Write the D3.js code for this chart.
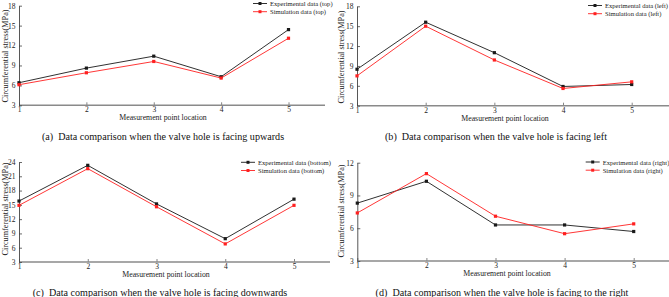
<!DOCTYPE html>
<html>
<head>
<meta charset="utf-8">
<script src="https://cdn.jsdelivr.net/npm/d3@7/dist/d3.min.js"></script>
<style>
  html, body { margin: 0; padding: 0; background: #fff; }
  svg { display: block; font-family: "Liberation Serif", "Times New Roman", serif; }
</style>
</head>
<body>
<svg id="chart" width="669" height="297"></svg>
<script>
// ---------- data ----------
const points = [1, 2, 3, 4, 5];

const expTop = [6.4, 8.6, 10.4, 7.3, 14.4];
const simTop = [6.1, 7.9, 9.6, 7.1, 13.1];

const expLeft = [8.5, 15.6, 11.0, 5.9, 6.2];
const simLeft = [7.5, 15.0, 9.9, 5.6, 6.6];

const expBottom = [15.8, 23.3, 15.2, 7.9, 16.2];
const simBottom = [14.9, 22.6, 14.6, 6.8, 14.9];

const expRight = [8.3, 10.3, 6.3, 6.3, 5.7];
const simRight = [7.4, 11.0, 7.1, 5.5, 6.4];

const yTicksTop = [3, 6, 9, 12, 15, 18];
const yTicksLeft = [3, 6, 9, 12, 15, 18];
const yTicksBottom = [3, 6, 9, 12, 15, 18, 21, 24];
const yTicksRight = [3, 6, 9, 12];

const legendTop = ["Experimental data (top)", "Simulation data (top)"];
const legendLeft = ["Experimental data (left)", "Simulation data (left)"];
const legendBottom = ["Experimental data (bottom)", "Simulation data (bottom)"];
const legendRight = ["Experimental data (right)", "Simulation data (right)"];

const captions = [
  "(a)  Data comparison when the valve hole is facing upwards",
  "(b)  Data comparison when the valve hole is facing left",
  "(c)  Data comparison when the valve hole is facing downwards",
  "(d)  Data comparison when the valve hole is facing to the right"
];
const xTitle = "Measurement point location";
const yTitle = "Circumferential stress(MPa)";

// ---------- layout ----------
const panels = [
  { ox: 0,   oy: 0,   w: 335, h: 148, x1: 19, x5: 288.5, xEnd: 325, yTop: 5.7,  yBot: 105.3,
    yDom: [3, 18], yTicks: yTicksTop, exp: expTop, sim: simTop, legend: legendTop,
    legX: 253, legY: 3.5, yTitleX: 5, yTitleY: 56, capY: 136, capX: 163, xTitleX: 163 },
  { ox: 335, oy: 0,   w: 334, h: 148, x1: 22, x5: 296.7, xEnd: 334, yTop: 6.3,  yBot: 105.7,
    yDom: [3, 18], yTicks: yTicksLeft, exp: expLeft, sim: simLeft, legend: legendLeft,
    legX: 253, legY: 5.5, yTitleX: 6, yTitleY: 57, capY: 136, capX: 161, xTitleX: 170 },
  { ox: 0,   oy: 148, w: 335, h: 149, x1: 19, x5: 294, xEnd: 330, yTop: 14,   yBot: 114,
    yDom: [3, 24], yTicks: yTicksBottom, exp: expBottom, sim: simBottom, legend: legendBottom,
    legX: 241, legY: 14.3, yTitleX: 5, yTitleY: 61, capY: 144, capX: 160, xTitleX: 166 },
  { ox: 335, oy: 148, w: 334, h: 149, x1: 22.3, x5: 298.7, xEnd: 334, yTop: 14.7, yBot: 113,
    yDom: [3, 12], yTicks: yTicksRight, exp: expRight, sim: simRight, legend: legendRight,
    legX: 250.7, legY: 14, yTitleX: 6, yTitleY: 63, capY: 144, capX: 167, xTitleX: 172 }
];

const expColor = "#1a1a1a";
const simColor = "#ff2020";

const svg = d3.select("#chart");
const defs = svg.append("defs");

panels.forEach((p, i) => {
  defs.append("clipPath").attr("id", "clip" + i)
    .append("rect").attr("x", 0).attr("y", 0).attr("width", p.w).attr("height", p.h);

  const g = svg.append("g")
    .attr("transform", `translate(${p.ox},${p.oy})`)
    .attr("clip-path", `url(#clip${i})`);

  const x = d3.scaleLinear().domain([1, 5]).range([p.x1, p.x5]);
  const y = d3.scaleLinear().domain(p.yDom).range([p.yBot, p.yTop]);

  // x axis
  const xAxis = g.append("g").attr("transform", `translate(0,${p.yBot})`)
    .call(d3.axisBottom(x).tickValues(points).tickFormat(d3.format("d")).tickSize(0).tickPadding(1.5));
  xAxis.select(".domain").remove();
  xAxis.append("line").attr("x1", p.x1).attr("x2", p.xEnd).attr("y1", 0).attr("y2", 0)
    .attr("stroke", "#8a8a8a").attr("stroke-width", 1.6);
  xAxis.selectAll(".tick").append("line").attr("y1", 0).attr("y2", -3)
    .attr("stroke", "#666").attr("stroke-width", 0.8);
  xAxis.selectAll(".tick text").attr("font-size", 7.5).attr("fill", "#222")
    .attr("font-family", "Liberation Serif, serif");

  // y axis
  const yAxis = g.append("g").attr("transform", `translate(${p.x1},0)`)
    .call(d3.axisLeft(y).tickValues(p.yTicks).tickFormat(d3.format("d")).tickSize(0).tickPadding(3.5));
  yAxis.select(".domain").attr("stroke", "#444").attr("stroke-width", 0.9);
  yAxis.selectAll(".tick").append("line").attr("x1", 0).attr("x2", 3)
    .attr("stroke", "#444").attr("stroke-width", 0.8);
  yAxis.selectAll(".tick text").attr("font-size", 7.5).attr("fill", "#222")
    .attr("font-family", "Liberation Serif, serif");

  // titles
  g.append("text").attr("x", p.xTitleX).attr("y", p.yBot + 12.5)
    .attr("text-anchor", "middle").attr("dominant-baseline", "central")
    .attr("font-size", 7.8).attr("fill", "#222").text(xTitle);
  g.append("text")
    .attr("transform", `translate(${p.yTitleX},${p.yTitleY}) rotate(-90)`)
    .attr("text-anchor", "middle").attr("dominant-baseline", "central")
    .attr("font-size", 8.2).attr("fill", "#222").text(yTitle);

  // lines
  const line = d3.line().x((d, j) => x(points[j])).y(d => y(d));
  [[p.exp, expColor], [p.sim, simColor]].forEach(([vals, col]) => {
    g.append("path").datum(vals).attr("d", line).attr("fill", "none")
      .attr("stroke", col).attr("stroke-width", 0.9);
    g.selectAll(null).data(vals).enter().append("rect")
      .attr("x", (d, j) => x(points[j]) - 1.6).attr("y", d => y(d) - 1.6)
      .attr("width", 3.2).attr("height", 3.2).attr("fill", col);
  });

  // legend
  [[p.legend[0], expColor], [p.legend[1], simColor]].forEach(([lab, col], k) => {
    const ly = p.legY + k * 8.2;
    g.append("line").attr("x1", p.legX).attr("x2", p.legX + 14).attr("y1", ly).attr("y2", ly)
      .attr("stroke", col).attr("stroke-width", 0.9);
    g.append("rect").attr("x", p.legX + 7 - 1.5).attr("y", ly - 1.5)
      .attr("width", 3).attr("height", 3).attr("fill", col);
    g.append("text").attr("x", p.legX + 17).attr("y", ly).attr("dominant-baseline", "central")
      .attr("font-size", 6.6).attr("fill", "#222").text(lab);
  });

  // caption
  g.append("text").attr("x", p.capX).attr("y", p.capY).attr("text-anchor", "middle")
    .attr("dominant-baseline", "central").attr("font-size", 10.1).attr("fill", "#111")
    .attr("xml:space", "preserve").style("white-space", "pre").text(captions[i]);
});
</script>
</body>
</html>
